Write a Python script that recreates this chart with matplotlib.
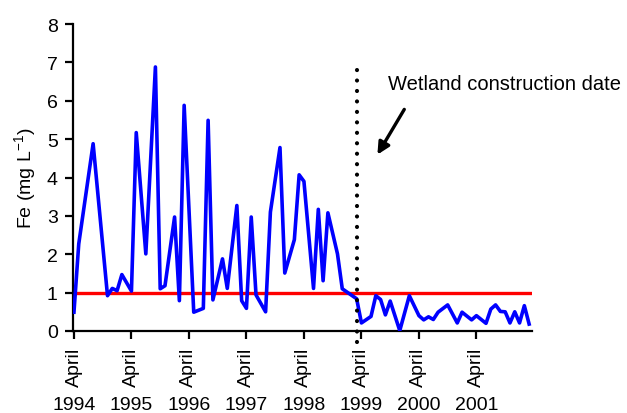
import matplotlib
matplotlib.use("Agg")
import matplotlib.pyplot as plt

plt.rcParams['font.family'] = ['Liberation Sans', 'DejaVu Sans']
plt.rcParams['mathtext.default'] = 'regular'

# months counted from April 1994
months = [0, 1, 4, 7, 8, 9, 10, 12, 13, 15, 17, 18, 19, 21, 22, 23, 25, 27, 28, 29,
          31, 32, 34, 35, 36, 37, 38, 40, 41, 43, 44, 46, 47, 48, 50, 51, 52, 53, 55, 56,
          59, 60, 62, 63, 64, 65, 66, 68, 70, 72, 73, 74, 75, 76, 78, 80, 81, 83, 84, 86,
          87, 88, 89, 90, 91, 92, 93, 94, 95]
fe = [0.49, 2.27, 4.88, 0.92, 1.11, 1.05, 1.47, 1.04, 5.17, 2.01, 6.88, 1.10, 1.18, 2.97, 0.79, 5.88, 0.49, 0.59, 5.49, 0.81,
      1.88, 1.11, 3.27, 0.79, 0.59, 2.97, 0.94, 0.50, 3.10, 4.78, 1.51, 2.38, 4.07, 3.90, 1.11, 3.17, 1.31, 3.08, 2.01, 1.10,
      0.84, 0.21, 0.38, 0.92, 0.82, 0.42, 0.78, 0.01, 0.92, 0.40, 0.29, 0.37, 0.30, 0.49, 0.68, 0.21, 0.49, 0.29, 0.40, 0.20,
      0.57, 0.68, 0.51, 0.50, 0.21, 0.50, 0.21, 0.66, 0.18]

years = ['1994', '1995', '1996', '1997', '1998', '1999', '2000', '2001']
year_ticks = [0, 12, 24, 36, 48, 60, 72, 84]
limit = 1.0
construction = 59

W, H = 627, 414
fig = plt.figure(figsize=(W / 100, H / 100), dpi=100)
ax = fig.add_axes([73 / W, 1 - 332 / H, 459 / W, 307 / H])

ax.plot(months, fe, color='#0000ff', lw=2.6, zorder=3)
ax.axhline(limit, color='#ff0000', lw=2.4, zorder=2)
ax.plot([construction, construction], [-0.29, 6.85], color='black', lw=3.0,
        linestyle=(0, (0.01, 2.5)), dash_capstyle='round', clip_on=False, zorder=4)

ax.set_xlim(-0.2, 95.6)
ax.set_ylim(0, 8)
ax.set_yticks(range(0, 9))
ax.set_xticks(year_ticks)
ax.set_xticklabels(['April'] * len(year_ticks), rotation=90, va='top')

for s in ['top', 'right']:
    ax.spines[s].set_visible(False)
for s in ['left', 'bottom']:
    ax.spines[s].set_linewidth(1.6)
ax.tick_params(width=1.6, length=6, labelsize=14, pad=5)

for m, yr in zip(year_ticks, years):
    ax.text(m, -0.241, yr, transform=ax.get_xaxis_transform(), ha='center', va='center',
            fontsize=14)

ax.set_ylabel('Fe (mg L$^{-1}$)', fontsize=14, labelpad=6)

fig.text(388 / W, 1 - 84 / H, 'Wetland construction date', fontsize=14.5,
         ha='left', va='center')
ax.annotate('', xy=(376, H - 158), xytext=(405.7, H - 108),
            xycoords='figure pixels', textcoords='figure pixels',
            arrowprops=dict(arrowstyle='-|>', color='black', lw=2.4, mutation_scale=18))

fig.savefig('out.png', dpi=100)
